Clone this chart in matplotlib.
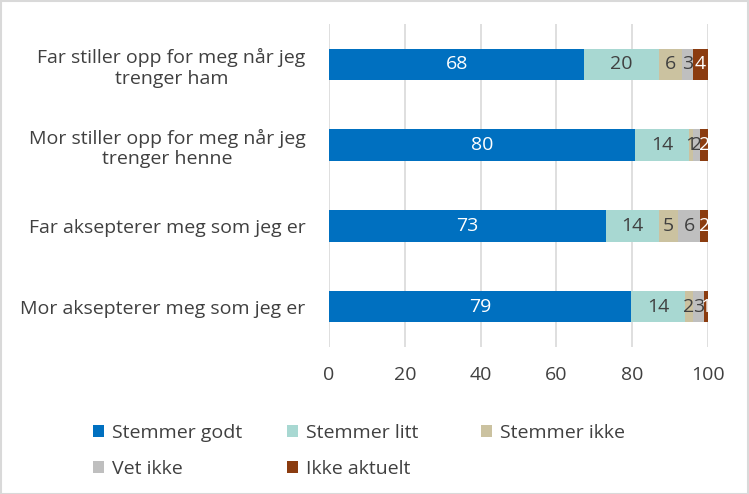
import numpy as np
import matplotlib.pyplot as plt
from matplotlib.patches import Rectangle

plt.rcParams['font.family'] = ['Open Sans', 'DejaVu Sans']

categories = ['Far stiller opp for meg når jeg\ntrenger ham',
              'Mor stiller opp for meg når jeg\ntrenger henne',
              'Far aksepterer meg som jeg er',
              'Mor aksepterer meg som jeg er']
series = ['Stemmer godt', 'Stemmer litt', 'Stemmer ikke', 'Vet ikke', 'Ikke aktuelt']
values = {
    'Stemmer godt': [68, 80, 73, 79],
    'Stemmer litt': [20, 14, 14, 14],
    'Stemmer ikke': [6, 1, 5, 2],
    'Vet ikke': [3, 2, 6, 3],
    'Ikke aktuelt': [4, 2, 2, 1],
}
colors = ['#0070C0', '#A8D8D2', '#CBC2A0', '#BFBFBF', '#8B3C10']
text_colors = ['white', '#404040', '#404040', '#404040', 'white']

W, H = 749, 494
fig = plt.figure(figsize=(W / 100, H / 100), dpi=100)
ax = fig.add_axes([329 / W, 1 - 347 / H, 379 / W, 323 / H])

# 100 % stablet
totals = np.sum([values[s] for s in series], axis=0)

y = np.arange(len(categories))
left = np.zeros(len(categories))
handles = []
for s, c, tc in zip(series, colors, text_colors):
    v = np.array(values[s])
    w = v / totals * 100
    h = ax.barh(y, w, left=left, height=0.39, color=c, label=s, zorder=3)
    handles.append(h)
    for yi, l, wi, vi in zip(y, left, w, v):
        ax.text(l + wi / 2, yi, str(vi), ha='center', va='center',
                color=tc, fontsize=14, zorder=4)
    left += w

ax.set_xlim(0, 100)
ax.set_ylim(3.5, -0.5)
ax.set_xticks([0, 20, 40, 60, 80, 100])
ax.set_yticks(y)
ax.set_yticklabels(categories, fontsize=14, color='#404040', multialignment='center')
ax.tick_params(axis='x', labelsize=14, colors='#404040', length=0, pad=14)
ax.tick_params(axis='y', length=0, pad=17)
ax.grid(axis='x', color='#D9D9D9', linewidth=1.2, zorder=0)
for sp in ax.spines.values():
    sp.set_visible(False)

# legend i faste kolonner, radvis som i Excel
for i, (h, s) in enumerate(zip(handles, series)):
    row, col = divmod(i, 3)
    fig.legend([h], [s], loc='center left',
               bbox_to_anchor=((93 + col * 194) / W, 1 - (433 + row * 36) / H),
               frameon=False, fontsize=14, handlelength=0.55, handleheight=0.55,
               handletextpad=0.45, borderpad=0, borderaxespad=0,
               labelcolor='#404040')

fig.patches.append(Rectangle((0.001, 0.001), 0.997, 0.997, transform=fig.transFigure,
                             fill=False, edgecolor='#D9D9D9', linewidth=1.5))

fig.savefig('out.png', dpi=100)
